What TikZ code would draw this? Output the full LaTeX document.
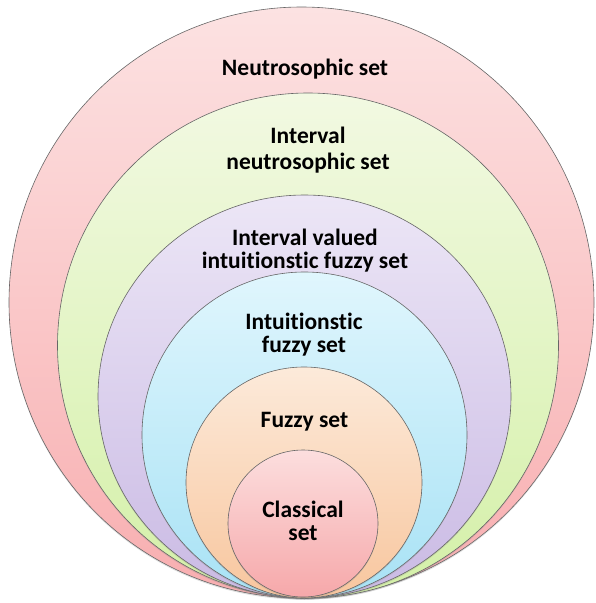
\documentclass[tikz,border=0pt]{standalone}
\usepackage{fontspec}
\setmainfont{Carlito}[RawFeature={-liga;-clig;-dlig}]
\usetikzlibrary{shapes.geometric,shadows}
\definecolor{redT}{RGB}{252,226,226}
\definecolor{redB}{RGB}{248,174,176}
\definecolor{grnT}{RGB}{242,249,226}
\definecolor{grnB}{RGB}{212,240,168}
\definecolor{purT}{RGB}{236,230,246}
\definecolor{purB}{RGB}{202,186,228}
\definecolor{bluT}{RGB}{224,246,253}
\definecolor{bluB}{RGB}{168,226,245}
\definecolor{orgT}{RGB}{252,234,218}
\definecolor{orgB}{RGB}{248,198,158}
\definecolor{clsT}{RGB}{252,222,222}
\definecolor{clsB}{RGB}{246,168,170}
\tikzset{
  setellipse/.style={ellipse, draw=black!60, line width=0.6pt, inner sep=0pt, outer sep=0pt,
    drop shadow={opacity=0.25, shadow xshift=0pt, shadow yshift=-1.5pt}},
  settext/.style={font=\bfseries\fontsize{23.5}{22.5}\selectfont, align=center, text=black, inner sep=0pt, anchor=base}
}
\begin{document}
\begin{tikzpicture}[x=1pt,y=-1pt]
\useasboundingbox (0,0) rectangle (596,603);
\node[setellipse, top color=redT, bottom color=redB, minimum width=585pt, minimum height=591pt] (neu) at (301.5,302.5) {};
\node[setellipse, top color=grnT, bottom color=grnB, minimum width=501pt, minimum height=505pt] (ineu) at (308,345.5) {};
\node[setellipse, top color=purT, bottom color=purB, minimum width=413pt, minimum height=403pt] (ivifs) at (304.5,396.5) {};
\node[setellipse, top color=bluT, bottom color=bluB, minimum width=325pt, minimum height=326pt] (ifs) at (304.5,435) {};
\node[setellipse, top color=orgT, bottom color=orgB, minimum width=236pt, minimum height=231pt] (fs) at (304,482.5) {};
\node[setellipse, top color=clsT, bottom color=clsB, minimum width=150pt, minimum height=147pt] (cs) at (303,523.5) {};
\node[settext] (tneu) at (305,75) {Neutrosophic set};
\node[settext, font=\bfseries\fontsize{23.5}{26}\selectfont] (tineu) at (308,169) {Interval\\neutrosophic set};
\node[settext] (tivifs) at (305,268) {Interval valued\\intuitionstic fuzzy set};
\node[settext] (tifs) at (304,352) {Intuitionstic\\fuzzy set};
\node[settext] (tfs) at (304.5,427) {Fuzzy set};
\node[settext] (tcs) at (303,540) {Classical\\set};
\end{tikzpicture}
\end{document}
